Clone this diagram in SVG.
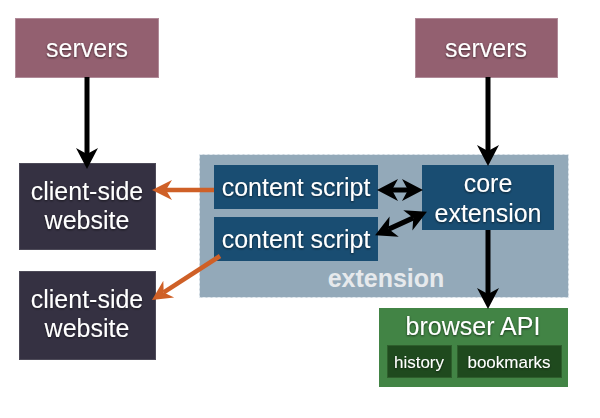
<svg xmlns="http://www.w3.org/2000/svg" width="600" height="418" viewBox="0 0 600 418">
<defs>
<style>
text{font-family:"Liberation Sans",Arial,sans-serif;fill:#fff;text-anchor:middle;filter:url(#ts)}
.t{font-size:25px}
.s{font-size:17px}
.lbl{font-size:25px;font-weight:bold;fill:#e6e9ec;filter:none}
.srv{fill:#936070;stroke:#b08a98;stroke-width:1}
.cli{fill:#353142;stroke:#4d4a58;stroke-width:1}
.cs{fill:#194d72}
.api{fill:#428445}
.sub{fill:#1f4a1e;stroke:#2e5e2c;stroke-width:1}
.blk{stroke:#000;stroke-width:5;fill:none}
.org{stroke:#cf6027;stroke-width:4.5;fill:none}
</style>
<filter id="ts" x="-10%" y="-20%" width="120%" height="140%">
<feDropShadow dx="0" dy="1" stdDeviation="0.8" flood-color="#000" flood-opacity="0.6"/>
</filter>
<marker id="ab" markerUnits="userSpaceOnUse" viewBox="0 -12 22 24" refX="6" refY="0" markerWidth="22" markerHeight="24" orient="auto-start-reverse">
<path d="M0,-11 L21,0 L0,11 L6,0 Z" fill="#000"/>
</marker>
<marker id="ao" markerUnits="userSpaceOnUse" viewBox="0 -12 22 24" refX="6" refY="0" markerWidth="22" markerHeight="24" orient="auto">
<path d="M0,-10 L20,0 L0,10 L6,0 Z" fill="#cf6027"/>
</marker>
</defs>

<g id="extension">
<rect x="199.5" y="154.5" width="369" height="143" fill="#93a9b9" stroke="#e4ebf0" stroke-width="1" stroke-dasharray="3,2"/>
<text class="lbl" x="386" y="287">extension</text>
</g>

<g id="servers-left">
<rect class="srv" x="15.5" y="18.5" width="143" height="59"/>
<text class="t" x="87" y="57">servers</text>
</g>
<g id="servers-right">
<rect class="srv" x="415.5" y="18.5" width="142" height="59"/>
<text class="t" x="486" y="57">servers</text>
</g>
<g id="client-1">
<rect class="cli" x="19.5" y="163.5" width="136" height="86"/>
<text class="t" x="87" y="200">client-side</text>
<text class="t" x="87" y="229">website</text>
</g>
<g id="client-2">
<rect class="cli" x="19.5" y="271.5" width="136" height="88"/>
<text class="t" x="87" y="308">client-side</text>
<text class="t" x="87" y="337">website</text>
</g>
<g id="content-script-1">
<rect class="cs" x="214" y="165" width="164" height="44"/>
<text class="t" x="296" y="196">content script</text>
</g>
<g id="content-script-2">
<rect class="cs" x="214" y="217" width="164" height="44"/>
<text class="t" x="296" y="248">content script</text>
</g>
<g id="core-extension">
<rect class="cs" x="422" y="165" width="132" height="65"/>
<text class="t" x="488" y="192">core</text>
<text class="t" x="488" y="222">extension</text>
</g>
<g id="browser-api">
<rect class="api" x="379" y="308" width="189" height="79"/>
<text class="t" x="473" y="335">browser API</text>
<rect class="sub" x="387.5" y="345.5" width="64" height="32"/>
<text class="s" x="419" y="368">history</text>
<rect class="sub" x="457.5" y="345.5" width="104" height="32"/>
<text class="s" x="509" y="368">bookmarks</text>
</g>

<g id="connectors">
<line class="blk" x1="87" y1="77" x2="87" y2="154" marker-end="url(#ab)"/>
<line class="blk" x1="488" y1="77" x2="488" y2="151" marker-end="url(#ab)"/>
<line class="blk" x1="488" y1="230" x2="488" y2="294" marker-end="url(#ab)"/>
<line class="blk" x1="392" y1="190" x2="408" y2="190" marker-start="url(#ab)" marker-end="url(#ab)"/>
<line class="blk" x1="388.7" y1="229.1" x2="413.3" y2="217.9" marker-start="url(#ab)" marker-end="url(#ab)"/>
<line class="org" x1="214" y1="190" x2="166" y2="190" marker-end="url(#ao)"/>
<line class="org" x1="220" y1="256" x2="163.7" y2="292.4" marker-end="url(#ao)"/>
</g>
</svg>
